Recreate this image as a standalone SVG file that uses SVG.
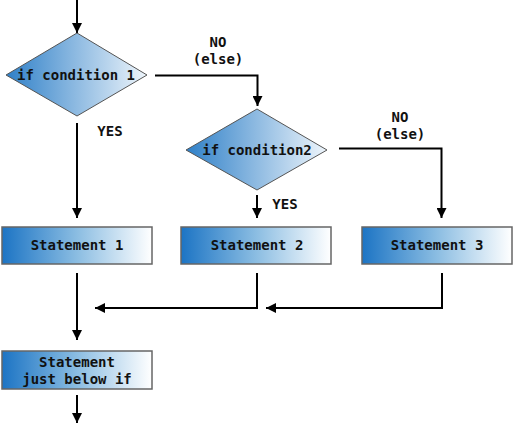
<svg xmlns="http://www.w3.org/2000/svg" width="514" height="425" viewBox="0 0 514 425">
<style>
.t{font-family:"DejaVu Sans Mono","Liberation Mono",monospace;font-weight:bold;font-size:14px;fill:#111;text-anchor:middle}
.d{fill:url(#gd);stroke:#555;stroke-width:1}
.b{fill:url(#gb);stroke:#666;stroke-width:1.5}
.c{fill:none;stroke:#000;stroke-width:2}
</style>
<defs>
<linearGradient id="gd" x1="0" y1="0" x2="1" y2="0">
<stop offset="0" stop-color="#2f80c8"/>
<stop offset="1" stop-color="#eef5fb"/>
</linearGradient>
<linearGradient id="gb" x1="0" y1="0" x2="1" y2="0">
<stop offset="0" stop-color="#1c74c4"/>
<stop offset="0.5" stop-color="#8bbde2"/>
<stop offset="1" stop-color="#ffffff"/>
</linearGradient>
<marker id="ah" viewBox="0 0 10 10" refX="10" refY="5" markerWidth="5.5" markerHeight="5" orient="auto" markerUnits="strokeWidth">
<path d="M0,0 L10,5 L0,10 z" fill="#000"/>
</marker>
</defs>
<g id="connectors">
<path class="c" d="M77,0 V33" marker-end="url(#ah)"/>
<path class="c" d="M155,75.5 H257.5 V106" marker-end="url(#ah)"/>
<path class="c" d="M77,123 V218" marker-end="url(#ah)"/>
<path class="c" d="M339,148.5 H441.5 V218" marker-end="url(#ah)"/>
<path class="c" d="M257,195 V218" marker-end="url(#ah)"/>
<path class="c" d="M77,273 V340" marker-end="url(#ah)"/>
<path class="c" d="M257,273 V308 H95" marker-end="url(#ah)"/>
<path class="c" d="M442,273 V308 H266" marker-end="url(#ah)"/>
<path class="c" d="M77,395 V423" marker-end="url(#ah)"/>
</g>
<g id="labels">
<text class="t" x="218" y="47">NO</text>
<text class="t" x="218" y="64">(else)</text>
<text class="t" x="400" y="122">NO</text>
<text class="t" x="400" y="139">(else)</text>
<text class="t" x="110" y="136">YES</text>
<text class="t" x="285" y="209">YES</text>
</g>
<g id="cond1">
<polygon class="d" points="6,75 77,33 147,75 77,116"/>
<text class="t" x="76" y="80">if condition 1</text>
</g>
<g id="cond2">
<polygon class="d" points="186,150 257,109 327,150 257,190"/>
<text class="t" x="257" y="155">if condition2</text>
</g>
<g id="stmt1">
<rect class="b" x="2" y="227" width="150" height="37"/>
<text class="t" x="77" y="250">Statement 1</text>
</g>
<g id="stmt2">
<rect class="b" x="181" y="227" width="150" height="37"/>
<text class="t" x="257" y="250">Statement 2</text>
</g>
<g id="stmt3">
<rect class="b" x="362" y="227" width="150" height="37"/>
<text class="t" x="437" y="250">Statement 3</text>
</g>
<g id="stmt4">
<rect class="b" x="2" y="351" width="150" height="38"/>
<text class="t" x="77" y="367">Statement</text>
<text class="t" x="77" y="384">just below if</text>
</g>
</svg>
